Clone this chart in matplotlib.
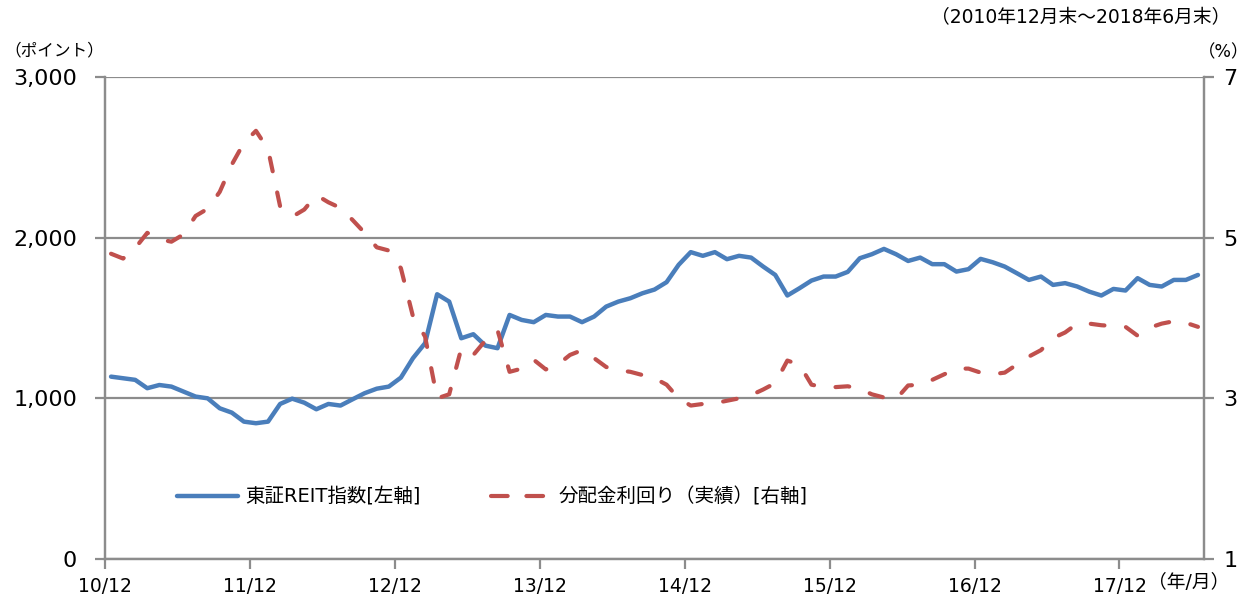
import numpy as np
import matplotlib.pyplot as plt
from matplotlib.lines import Line2D

# latin glyphs in DejaVu (Verdana-like), kana/kanji from Noto CJK
plt.rcParams['font.family'] = ['DejaVu Sans', 'Noto Sans CJK JP']

# monthly data, Dec 2010 - Jun 2018
reit_index = [1135, 1125, 1115, 1063, 1083, 1073, 1042, 1011, 1000, 938,
              911, 855, 845, 855, 965, 998, 973, 932, 965, 955,
              994, 1032, 1060, 1073, 1129, 1250, 1343, 1648, 1602, 1374,
              1399, 1328, 1312, 1519, 1488, 1474, 1519, 1509, 1509, 1474,
              1509, 1571, 1602, 1623, 1654, 1677, 1723, 1831, 1910, 1887,
              1910, 1866, 1887, 1876, 1820, 1768, 1640, 1685, 1733, 1758,
              1758, 1787, 1872, 1897, 1930, 1897, 1855, 1876, 1835, 1835,
              1789, 1804, 1868, 1847, 1820, 1779, 1737, 1758, 1706, 1717,
              1696, 1664, 1640, 1681, 1671, 1748, 1706, 1696, 1737, 1737,
              1768]
div_yield = [4.80, 4.74, 4.87, 5.06, 4.98, 4.95, 5.04, 5.27, 5.36, 5.57,
             5.91, 6.18, 6.33, 6.10, 5.39, 5.26, 5.35, 5.53, 5.44, 5.37,
             5.22, 5.06, 4.88, 4.84, 4.62, 4.02, 3.77, 3.00, 3.05, 3.62,
             3.54, 3.72, 3.85, 3.33, 3.37, 3.48, 3.36, 3.42, 3.54, 3.60,
             3.50, 3.39, 3.35, 3.33, 3.29, 3.25, 3.17, 3.00, 2.91, 2.93,
             2.94, 2.97, 3.00, 3.04, 3.11, 3.19, 3.47, 3.42, 3.17, 3.14,
             3.14, 3.15, 3.12, 3.05, 3.01, 2.99, 3.16, 3.17, 3.23, 3.30,
             3.37, 3.37, 3.32, 3.30, 3.32, 3.42, 3.52, 3.60, 3.75, 3.82,
             3.93, 3.93, 3.91, 3.90, 3.89, 3.78, 3.88, 3.93, 3.96, 3.94,
             3.89]
tick_labels = ['10/12', '11/12', '12/12', '13/12', '14/12', '15/12', '16/12', '17/12']

blue = '#4A7EBB'
red = '#C0504D'
gray = '#8C8C8C'

W, H = 1259, 596
fig = plt.figure(figsize=(W / 100, H / 100), dpi=100)
ax = fig.add_axes([105 / W, 1 - 559 / H, (1204 - 105) / W, (559 - 77) / H])
ax2 = ax.twinx()

x = np.arange(len(reit_index))
ax.plot(x, reit_index, color=blue, lw=3.2, solid_joinstyle='round',
        solid_capstyle='round', zorder=3)
ax2.plot(x, div_yield, color=red, lw=3.0, dashes=(3.3, 5.2),
         dash_capstyle='round', zorder=3)

ax.set_xlim(-0.5, len(x) - 0.5)
ax.set_ylim(0, 3000)
ax2.set_ylim(1, 7)
ax.set_yticks([0, 1000, 2000, 3000])
ax.set_yticklabels(['0', '1,000', '2,000', '3,000'])
ax2.set_yticks([1, 3, 5, 7])
ax.set_xticks(np.arange(len(tick_labels)) * 12 - 0.5)
ax.set_xticklabels(tick_labels)

ax.grid(axis='y', color=gray, lw=1.6)
ax.set_axisbelow(True)
for a in (ax, ax2):
    for s in a.spines.values():
        s.set_color(gray)
        s.set_linewidth(1.6)
    a.spines['top'].set_visible(False)
ax.tick_params(axis='y', length=7, width=1.6, color=gray, pad=13, labelsize=16)
ax.tick_params(axis='x', length=7, width=1.6, color=gray, pad=6, labelsize=13.5)
ax2.tick_params(axis='y', length=7, width=1.6, color=gray, pad=7, labelsize=16)

fig.text(4 / W, 1 - 50 / H, '（ポイント）', fontsize=12, va='center', ha='left')
fig.text(1249 / W, 1 - 52 / H, '（%）', fontsize=12.5, va='center', ha='right')
fig.text(1230 / W, 1 - 18 / H, '（2010年12月末～2018年6月末）', fontsize=13.5,
         va='center', ha='right')
fig.text(1148 / W, 1 - 583 / H, '（年/月）', fontsize=13.5, va='center', ha='left')

handles = [Line2D([], [], color=blue, lw=3.2, solid_capstyle='round'),
           Line2D([], [], color=red, lw=3.0, dashes=(4, 4.5), dash_capstyle='round')]
ax2.legend(handles, ['東証REIT指数[左軸]', '分配金利回り（実績）[右軸]'],
           loc='center', bbox_to_anchor=(0.3526, 0.129), ncol=2, frameon=False,
           fontsize=14, handlelength=3.1, handletextpad=0.4, columnspacing=3.6)

fig.savefig('out.png', dpi=100)
